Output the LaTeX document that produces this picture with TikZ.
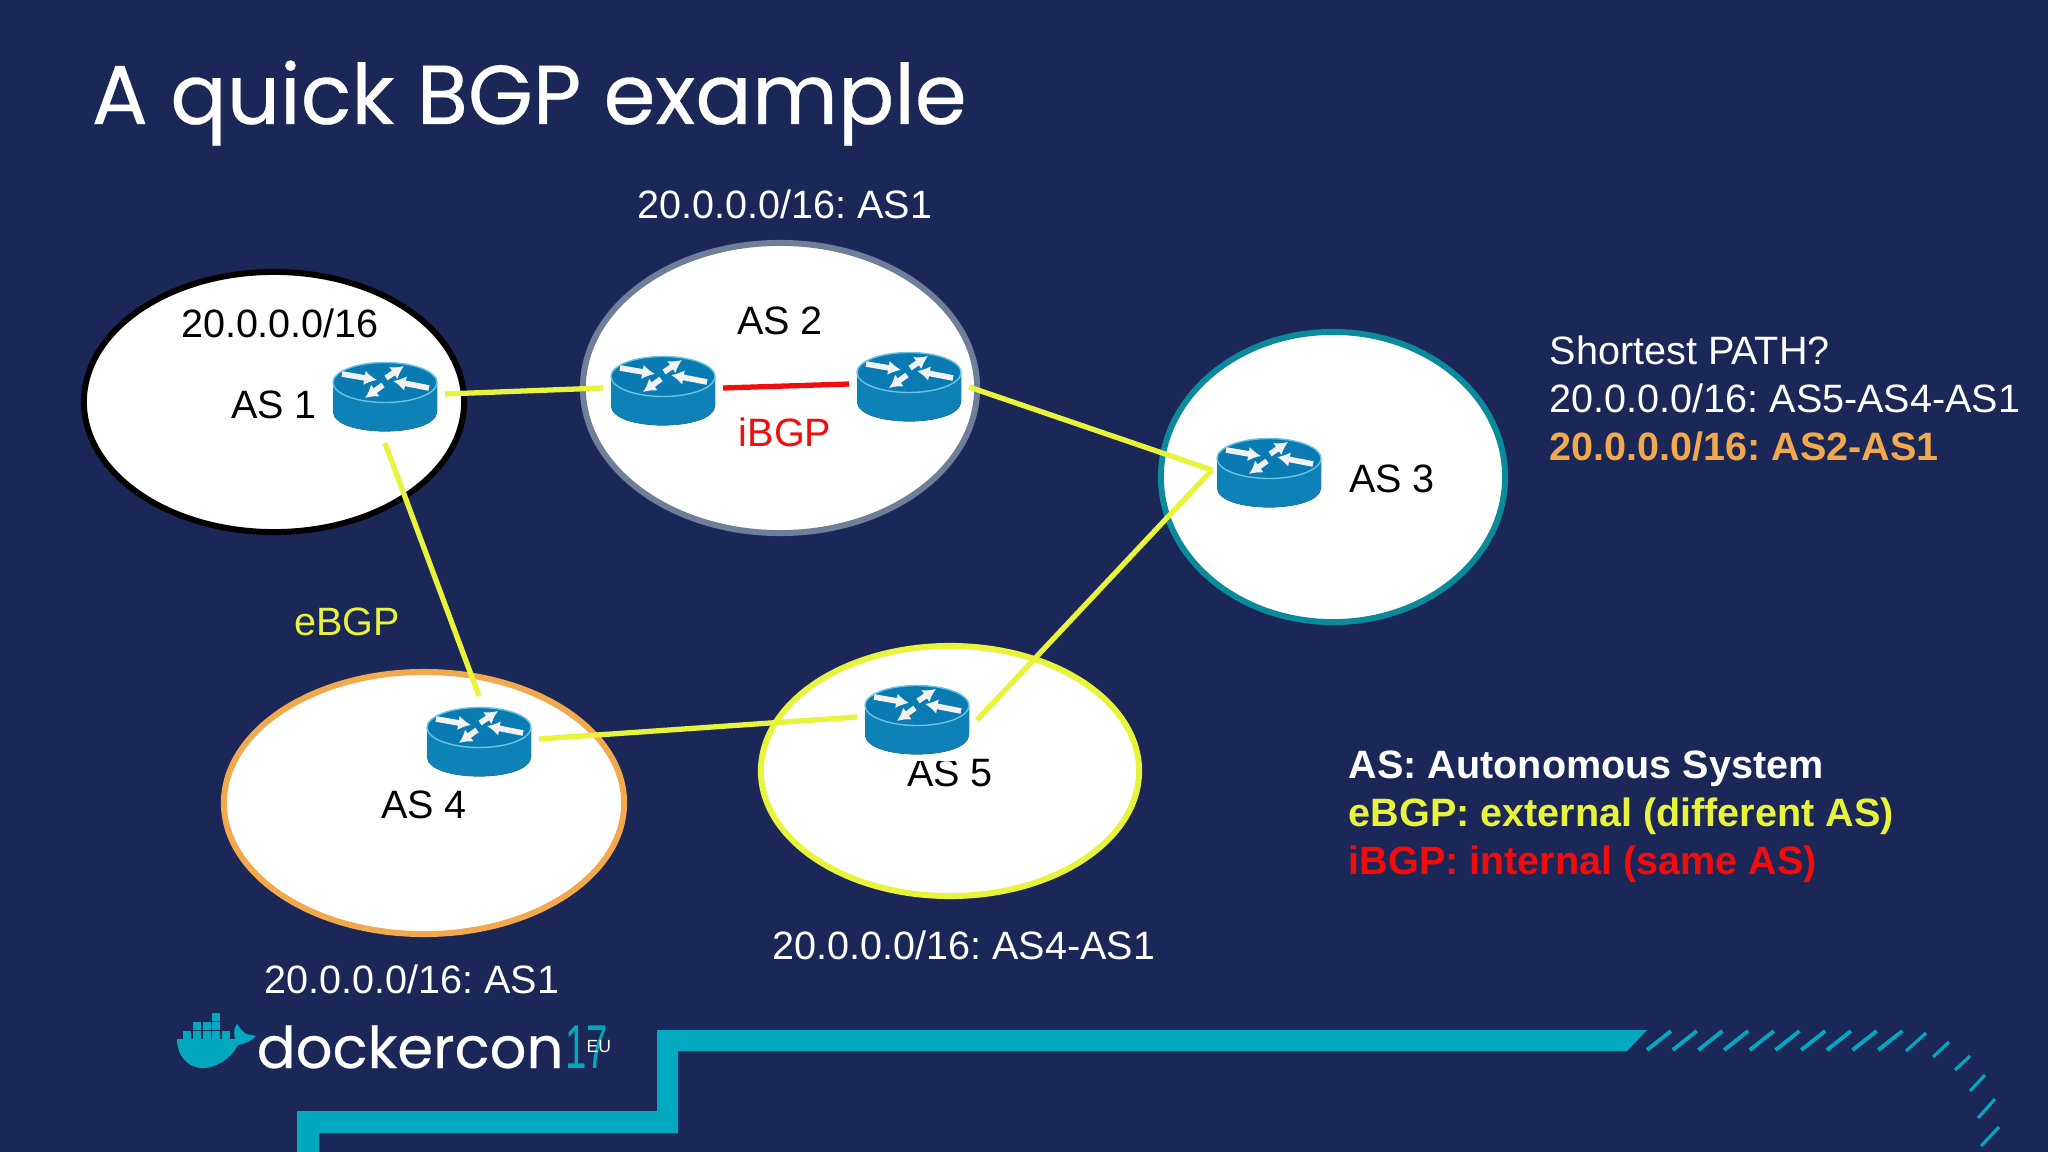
\documentclass[tikz,border=0pt]{standalone}
\usepackage{fontspec}
\setmainfont{Liberation Sans}
\newfontfamily\titlefont[FakeBold=0.35]{Poppins}
\frenchspacing
\usetikzlibrary{shapes.geometric,arrows.meta}
\definecolor{slidebg}{HTML}{1B2757}
\definecolor{dockerteal}{HTML}{00A9C0}
\definecolor{ebgpyellow}{HTML}{E8F33C}
\definecolor{ibgpred}{HTML}{F20D0D}
\definecolor{pathorange}{HTML}{F2A94E}
\definecolor{as2gray}{HTML}{6F7F9A}
\definecolor{as3teal}{HTML}{0B8A9C}
\definecolor{routertop}{HTML}{0A7AB2}
\definecolor{routerside}{HTML}{0E82B6}
\definecolor{routerlight}{HTML}{25A9D8}
\tikzset{>={Latex[length=3.6pt,width=4.2pt]}}
\tikzset{asnet/.style={ellipse,fill=white,line width=1.7pt,inner sep=0pt}}
\tikzset{routerbox/.style={rectangle,fill=white,inner sep=0pt,minimum width=1.1cm,minimum height=0.82cm,outer sep=0.05cm}}
\tikzset{ebgp/.style={draw=ebgpyellow,line width=1.5pt}}
\tikzset{ibgp/.style={draw=ibgpred,line width=1.5pt}}
\tikzset{label/.style={inner sep=0pt,font=\fontsize{11.25}{13}\selectfont}}
\tikzset{boldlabel/.style={label,font=\fontsize{11.25}{13}\selectfont\bfseries}}
\newcommand{\router}[2]{
\node[routerbox] (#1) at (#2) {};
\begin{scope}[shift={(#2)}]
\fill[left color=routerside,middle color=routerlight,right color=routerside] (-52,-14.5) -- (-52,14.5) .. controls (-52,41) and (52,41) .. (52,14.5) -- (52,-14.5) -- cycle;
\fill[routertop,draw=routerlight!70!white,line width=0.4pt] (0,-14.5) ellipse (52 and 20);
\foreach \ax/\ay/\bx/\by in {-43/-23/-8/-17,1/-19/19/-31,44/-9/8/-16,-2/-12/-20/1}
\draw[->,white!90!gray,line width=1.6pt] (\ax,\ay) -- (\bx,\by);
\end{scope}
}
\begin{document}
\begin{tikzpicture}[x=0.01cm,y=-0.01cm]
\fill[slidebg] (0,0) rectangle (2048,1152);
\useasboundingbox (0,0) rectangle (2048,1152);
\node[anchor=base west,inner sep=0pt,text=white,font=\titlefont\fontsize{23.75}{30}\selectfont] (title) at (91,124) {A quick BGP example};
\node[asnet,draw=black,minimum width=3.8cm,minimum height=2.6cm] (as1) at (274,402) {};
\node[asnet,draw=as2gray,minimum width=3.94cm,minimum height=2.9cm] (as2) at (780,388) {};
\node[asnet,draw=as3teal,minimum width=3.44cm,minimum height=2.9cm] (as3) at (1333,477) {};
\node[asnet,draw=pathorange,minimum width=4.0cm,minimum height=2.62cm] (as4) at (424,803) {};
\node[asnet,draw=ebgpyellow,minimum width=3.78cm,minimum height=2.5cm] (as5) at (950,771) {};
\node[label,text=white] (adv2) at (785,204) {20.0.0.0/16: AS1};
\node[label] (prefix) at (280,323) {20.0.0.0/16};
\node[label] (name1) at (274,405) {AS 1};
\node[label] (name2) at (780,321) {AS 2};
\node[label] (name3) at (1392,479) {AS 3};
\node[label] (name4) at (424,805) {AS 4};
\node[label] (name5) at (950,773) {AS 5};
\node[label,text=ibgpred] (ibgplabel) at (785,432) {iBGP};
\node[label,text=ebgpyellow] (ebgplabel) at (347,622) {eBGP};
\node[label,text=white] (adv4) at (412,979) {20.0.0.0/16: AS1};
\node[label,text=white] (adv5) at (964,945) {20.0.0.0/16: AS4-AS1};
\node[label,text=white,anchor=west] (path0) at (1549,350) {Shortest PATH?};
\node[label,text=white,anchor=west] (path1) at (1549,398) {20.0.0.0/16: AS5-AS4-AS1};
\node[boldlabel,text=pathorange,anchor=west] (path2) at (1549,447) {20.0.0.0/16: AS2-AS1};
\node[boldlabel,text=white,anchor=west] (legend1) at (1348,769) {AS: Autonomous System};
\node[boldlabel,text=ebgpyellow,anchor=west] (legend2) at (1348,816) {eBGP: external (different AS)};
\node[boldlabel,text=ibgpred,anchor=west] (legend3) at (1348,864) {iBGP: internal (same AS)};
\router{r1}{385,397}
\router{r2a}{663,391}
\router{r2b}{909,387}
\router{r3}{1269,473}
\router{r4}{479,742}
\router{r5}{917,720}
\coordinate (r3in) at (1212,470);
\path [ebgp] ([yshift=0.03cm]r1.east) edge ([yshift=0.03cm]r2a.west);
\path [ibgp] ([yshift=0.03cm]r2a.east) edge ([yshift=0.03cm]r2b.west);
\path [ebgp] (r2b.east) edge (r3in);
\path [ebgp] (r1.south) edge (r4.north);
\path [ebgp] ([yshift=0.03cm]r4.east) edge ([yshift=0.03cm]r5.west);
\path [ebgp] (r5.east) edge (r3in);
\fill[dockerteal] (1647,1030) -- (1627,1051) -- (678,1051) -- (678,1133) -- (319,1133) -- (319,1152) -- (297,1152) -- (297,1111) -- (657,1111) -- (657,1030) -- cycle;
\foreach \i in {0,...,9}
\draw[dockerteal,line width=1.1pt] ({1647+25.7*\i},1050) -- ({1671+25.7*\i},1031);
\foreach \ax/\ay/\bx/\by in {1906/1051/1926/1033,1933/1057/1949/1042,1955/1070/1970/1056,1970/1091/1985/1075,1978/1118/1995/1099,1981/1146/1999/1127}
\draw[dockerteal,line width=0.9pt] (\ax,\ay) -- (\bx,\by);
\fill[dockerteal] (177,1039) -- (235,1039) .. controls (233,1030) and (235,1027) .. (237,1024) .. controls (240,1028) and (243,1032) .. (246,1034) -- (256,1036) .. controls (250,1042) and (244,1044) .. (238,1045) .. controls (230,1060) and (215,1068) .. (203,1068) .. controls (187,1068) and (177,1055) .. (177,1039) -- cycle;
\foreach \cx/\cy in {183/1031,193/1031,203/1031,212/1031,222/1031,193/1022,203/1022,212/1022,212/1013}
\fill[dockerteal] (\cx,\cy) rectangle ++(8,8);
\node[anchor=base west,inner sep=0pt,text=white,font=\titlefont\fontsize{16.4}{20}\selectfont] (logo) at (256,1068) {dockercon};
\node[anchor=base west,inner sep=0pt,text=dockerteal,font=\fontsize{17.6}{20}\selectfont,xscale=0.62,transform shape] (logo17) at (565,1068) {17};
\node[anchor=base west,inner sep=0pt,text=white,font=\fontsize{5}{6}\selectfont] (logoeu) at (586,1052) {EU};
\end{tikzpicture}
\end{document}
